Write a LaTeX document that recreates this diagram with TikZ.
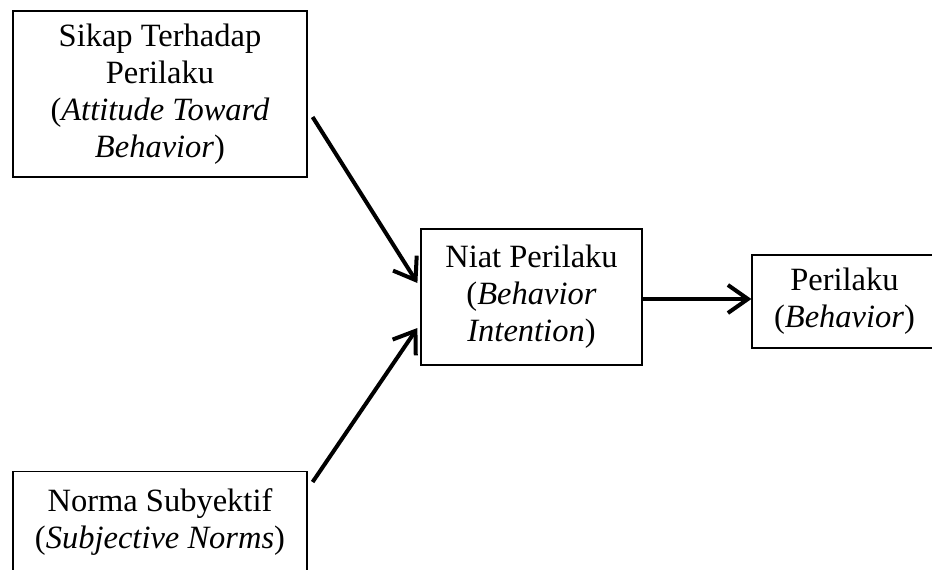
\documentclass[tikz,border=0pt]{standalone}
\usepackage{fontspec}
\setmainfont{Liberation Serif}
\usetikzlibrary{calc,arrows.meta}
\def\hurufbox{\fontsize{32.5}{37}\selectfont}

\begin{document}
\begin{tikzpicture}[x=1pt,y=-1pt,
    kotak/.style={draw,line width=1.2pt,align=center,inner sep=0pt,font=\hurufbox},
    panah/.style={line width=4pt,-{Straight Barb[length=20pt,width=28pt,line width=4pt]}}]
    \useasboundingbox (0,0) rectangle (932,570);
    \node[kotak,minimum width=294pt,minimum height=166pt] (sikap) at (160,94)
        {Sikap Terhadap\\Perilaku\\(\textit{Attitude Toward}\\\textit{Behavior})};
    \node[kotak,minimum width=221pt,minimum height=136pt] (niat) at (531.5,297)
        {Niat Perilaku\\(\textit{Behavior}\\\textit{Intention})};
    \node[kotak,minimum width=185pt,minimum height=93pt] (perilaku) at (844.5,301.5)
        {Perilaku\\(\textit{Behavior})};
    \node[kotak,minimum width=294pt,inner ysep=17pt,text depth=80pt,anchor=north] (norma) at (160,471)
        {Norma Subyektif\\(\textit{Subjective Norms})};
    \coordinate (pangkal) at ($(niat.east)+(0,2)$);
    \draw[panah] ($(sikap.east)+(5,23)$) -- ($(niat.west)+(-3,-14)$);
    \draw[panah] ($(norma.north east)+(5,11)$) -- ($(niat.west)+(-3,31)$);
    \draw[panah] (pangkal) -- (pangkal -| perilaku.west);
\end{tikzpicture}
\end{document}
